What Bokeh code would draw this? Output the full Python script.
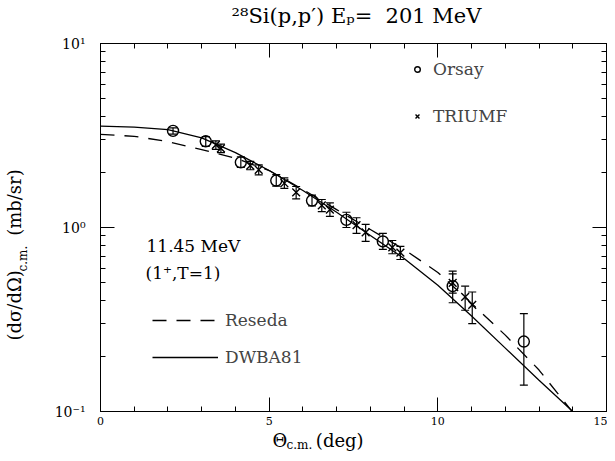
import math
from bokeh.plotting import figure
from bokeh.models import (ColumnDataSource, Whisker, TeeHead, LinearAxis, LogAxis,
                          SingleIntervalTicker, FixedTicker, Legend, LegendItem, Label,
                          CustomJSTickFormatter)
from bokeh.embed import file_html
from bokeh.resources import INLINE

# ---------------- data ----------------
theory_theta = [0, 1, 2, 3, 4, 5, 6, 7, 8, 9, 10, 11, 12, 13, 14]
dwba81 = [3.56, 3.51, 3.40, 3.07, 2.55, 2.04, 1.59, 1.21, 0.905, 0.679, 0.485, 0.330, 0.221, 0.148, 0.100]
reseda = [3.21, 3.13, 2.93, 2.65, 2.38, 2.04, 1.61, 1.25, 0.975, 0.76, 0.57, 0.387, 0.26, 0.168, 0.099]

orsay_theta = [2.15, 3.12, 4.16, 5.21, 6.27, 7.29, 8.37, 10.44, 12.55]
orsay_xs = [3.35, 2.94, 2.26, 1.80, 1.40, 1.10, 0.84, 0.48, 0.24]
orsay_lo = [3.22, 2.76, 2.12, 1.68, 1.31, 1.00, 0.76, 0.39, 0.139]
orsay_hi = [3.48, 3.12, 2.42, 1.94, 1.50, 1.21, 0.93, 0.58, 0.34]

triumf_theta = [3.42, 3.57, 4.44, 4.69, 5.45, 5.80, 6.56, 6.80, 7.59, 7.86, 8.65, 8.89, 10.44, 10.81, 11.02]
triumf_xs = [2.81, 2.69, 2.17, 2.06, 1.74, 1.55, 1.32, 1.25, 1.03, 0.94, 0.78, 0.73, 0.50, 0.42, 0.38]
triumf_lo = [2.66, 2.55, 2.06, 1.93, 1.63, 1.43, 1.22, 1.15, 0.93, 0.84, 0.72, 0.67, 0.44, 0.355, 0.30]
triumf_hi = [2.96, 2.84, 2.29, 2.19, 1.86, 1.67, 1.42, 1.36, 1.13, 1.04, 0.85, 0.79, 0.56, 0.48, 0.446]

x_major_interval = 5
y_major_ticks = [0.1, 1, 10]
y_minor_ticks = [0.2, 0.3, 0.4, 0.5, 0.6, 0.7, 0.8, 0.9, 2, 3, 4, 5, 6, 7, 8, 9]
y_tick_labels = {10: "10\u00b9", 1: "10\u2070", 0.1: "10\u207b\u00b9"}

SERIF = "DejaVu Serif"
NB = "\u00a0"

# ---------------- figure ----------------
p = figure(width=607, height=453, x_range=(0, 15), y_range=(0.1, 10), y_axis_type="log",
           output_backend="svg", toolbar_location=None, title=None,
           min_border_left=100, min_border_right=1, min_border_top=43, min_border_bottom=42)
p.xgrid.grid_line_color = None
p.ygrid.grid_line_color = None
p.outline_line_color = "black"
p.outline_line_width = 1
p.background_fill_color = "white"
p.border_fill_color = "white"

p.xaxis.ticker = SingleIntervalTicker(interval=x_major_interval, num_minor_ticks=5)
p.yaxis.ticker = FixedTicker(ticks=y_major_ticks, minor_ticks=y_minor_ticks)
p.yaxis.major_label_overrides = y_tick_labels

top = LinearAxis(ticker=SingleIntervalTicker(interval=x_major_interval, num_minor_ticks=5),
                 formatter=CustomJSTickFormatter(code="return ''"), major_label_standoff=0)
p.add_layout(top, "above")
right = LogAxis(ticker=FixedTicker(ticks=y_major_ticks, minor_ticks=y_minor_ticks),
                formatter=CustomJSTickFormatter(code="return ''"), major_label_standoff=0)
p.add_layout(right, "right")

for ax in p.axis:
    ax.axis_line_color = "black"
    ax.axis_line_width = 1
    ax.major_tick_in = 14
    ax.major_tick_out = 0
    ax.minor_tick_in = 5
    ax.minor_tick_out = 0
    ax.major_tick_line_color = "black"
    ax.minor_tick_line_color = "black"
    ax.major_label_text_font = SERIF
    ax.major_label_text_color = "black"
p.xaxis[0].major_label_text_font_size = "14px"
p.xaxis[0].major_label_standoff = 8
p.yaxis[0].major_label_text_font_size = "14px"
p.yaxis[0].major_label_standoff = 15
top.major_label_text_font_size = "0px"
right.major_label_text_font_size = "0px"

# ---------------- curves ----------------
r_reseda = p.line(theory_theta, reseda, line_color="black", line_width=1.3, line_dash="14 10")
r_dwba = p.line(theory_theta, dwba81, line_color="black", line_width=1.3)

# ---------------- data points ----------------
src_o = ColumnDataSource(dict(x=orsay_theta, y=orsay_xs, lo=orsay_lo, hi=orsay_hi))
src_t = ColumnDataSource(dict(x=triumf_theta, y=triumf_xs, lo=triumf_lo, hi=triumf_hi))

for src in (src_o, src_t):
    p.add_layout(Whisker(source=src, base="x", lower="lo", upper="hi", dimension="height",
                         line_color="black", line_width=1.2,
                         lower_head=TeeHead(size=8, line_color="black", line_width=1.2),
                         upper_head=TeeHead(size=8, line_color="black", line_width=1.2)))

r_orsay = p.scatter("x", "y", source=src_o, marker="circle", size=11, fill_color=None,
                    line_color="black", line_width=1.4)
r_triumf = p.scatter("x", "y", source=src_t, marker="x", size=11, line_color="black",
                     line_width=1.4)

# ---------------- legends ----------------
leg1 = Legend(items=[LegendItem(label="Orsay", renderers=[r_orsay]),
                     LegendItem(label="TRIUMF", renderers=[r_triumf])],
              location=(310, 285), glyph_width=14, glyph_height=20, label_height=20,
              label_standoff=9, spacing=27, padding=0, margin=0,
              border_line_color=None, background_fill_alpha=0,
              label_text_font=SERIF, label_text_font_size="17px")
p.add_layout(leg1)

leg2 = Legend(items=[LegendItem(label="Reseda", renderers=[r_reseda]),
                     LegendItem(label="DWBA81", renderers=[r_dwba])],
              location=(52, 44), glyph_width=66, glyph_height=20, label_height=20,
              label_standoff=7, spacing=17, padding=0, margin=0,
              border_line_color=None, background_fill_alpha=0,
              label_text_font=SERIF, label_text_font_size="17px")
p.add_layout(leg2)

# ---------------- texts ----------------
def lab(text, x, y, size, xo=0, yo=0, angle=0, align="left", place=None):
    lb = Label(x=x, y=y, x_offset=xo, y_offset=yo, text=text, angle=angle,
               text_font=SERIF, text_font_size=size, text_color="black",
               text_align=align, text_baseline="alphabetic")
    if place is None:
        p.add_layout(lb)
    else:
        p.add_layout(lb, place)

# state annotation (inside the frame)
lab("11.45 MeV", 0, 1, "17px", xo=46, yo=-18)
lab("(1\u207a,T=1)", 0, 1, "17px", xo=45, yo=-45)

# title (top panel)
lab("\u00b2\u2078Si(p,p\u2032) E\u209a=" + NB + NB + "201 MeV", 7.5, 10, "21px", xo=3, yo=28,
    align="center", place="above")

# x axis label: main part below, subscript held in the top panel (position is data-based)
lab("\u0398" + NB * 5 + "(deg)", 0, 0.1, "18px", xo=172, yo=-29, place="below")
lab("c.m.", 0, 0.1, "12px", xo=186, yo=-33, place="above")

# y axis label (rotated, left panel)
lab("(d\u03c3/d\u03a9)" + NB * 6 + "(mb/sr)", 0, 1, "18px", xo=-86, yo=-113,
    angle=math.pi / 2, place="left")
lab("c.m.", 0, 1, "12px", xo=-78, yo=-44, angle=math.pi / 2, place="left")

open("out.html", "w").write(file_html(p, INLINE))
